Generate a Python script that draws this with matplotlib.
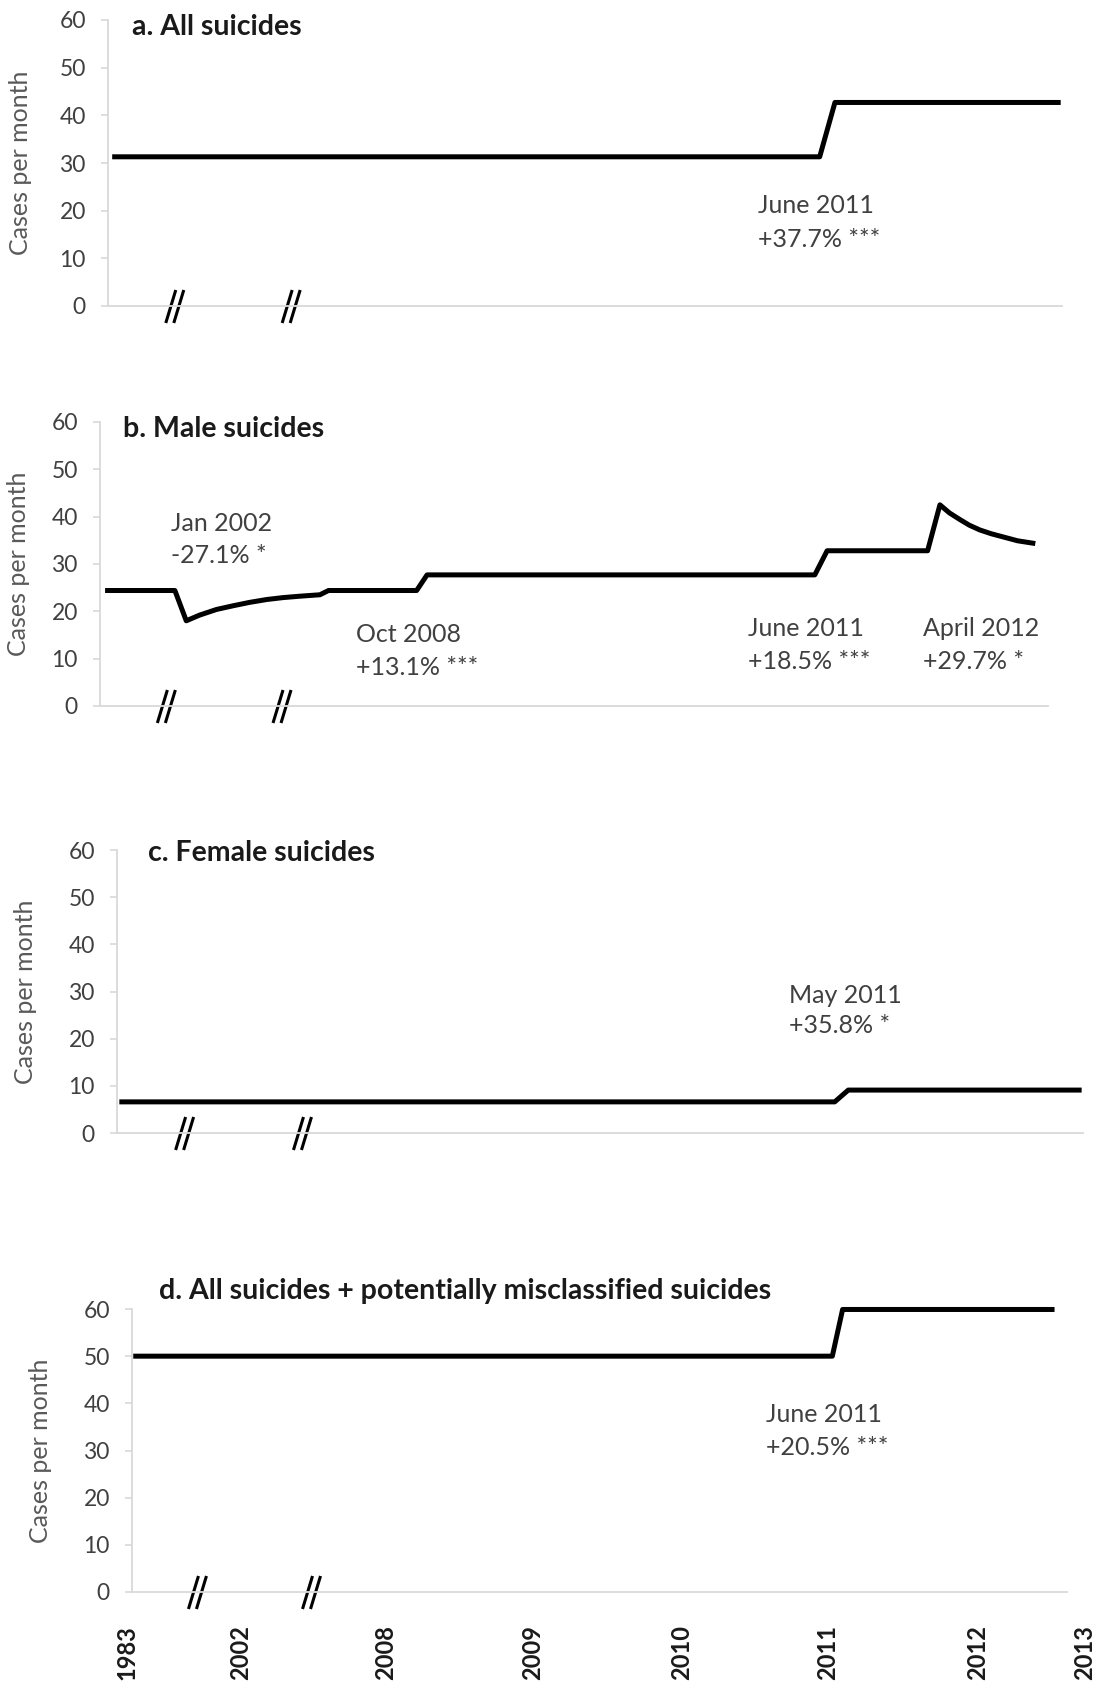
import matplotlib
matplotlib.use('Agg')
import matplotlib.pyplot as plt

plt.rcParams['font.family'] = ['Lato', 'DejaVu Sans']

### Data (x is position along the broken time axis, 0-100)

year_labels = ['1983', '2002', '2008', '2009', '2010', '2011', '2012', '2013']
year_pos = [-0.5, 11.6, 27.1, 42.8, 58.8, 74.4, 90.4, 101.9]
break_pos = [7.0, 19.2]

titles = ['a. All suicides', 'b. Male suicides', 'c. Female suicides',
          'd. All suicides + potentially misclassified suicides']

all_x = [0.7, 74.6, 76.2, 99.6]
all_y = [31.3, 31.3, 42.7, 42.7]

male_x = [0.8, 7.9, 9.1, 10.5, 12.3, 14.1, 15.8, 17.6, 19.3, 21.1, 23.2, 24.1,
          33.4, 34.5, 75.4, 76.7, 87.3, 88.6, 89.6, 90.7, 91.7, 92.8, 94.0,
          95.3, 96.8, 98.4]
male_y = [24.4, 24.4, 18.0, 19.2, 20.4, 21.2, 21.9, 22.5, 22.9, 23.2, 23.5, 24.4,
          24.4, 27.7, 27.7, 32.8, 32.8, 42.5, 40.8, 39.4, 38.2, 37.2, 36.4,
          35.7, 34.9, 34.4]

female_x = [0.5, 74.3, 75.7, 99.6]
female_y = [6.6, 6.6, 9.1, 9.1]

misc_x = [0.4, 74.9, 76.0, 98.4]
misc_y = [50.0, 50.0, 59.9, 59.9]

# annotation: (x, y of first baseline, y of second baseline, line 1, line 2)
notes_a = [(68.1, 19.5, 12.4, 'June 2011', '+37.7% ***')]
notes_b = [(7.5, 37.0, 30.2, 'Jan 2002', '-27.1% *'),
           (27.0, 13.5, 6.5, 'Oct 2008', '+13.1% ***'),
           (68.4, 14.8, 7.8, 'June 2011', '+18.5% ***'),
           (86.8, 14.8, 7.8, 'April 2012', '+29.7% *')]
notes_c = [(69.6, 27.6, 21.2, 'May 2011', '+35.8% *')]
notes_d = [(67.8, 36.0, 29.0, 'June 2011', '+20.5% ***')]

### Layout (pixels on a 1097 x 1686 canvas)

W, H = 1097, 1686
boxes = [(108, 1062, 20, 306),     # left, right, top, bottom
         (100, 1048, 422, 706),
         (117, 1083, 850, 1133),
         (132, 1067, 1309, 1592)]
title_pos = [(0.025, 0.976), (0.024, 0.975), (0.032, 0.989), (0.029, 1.064)]
ylabel_gap = [76, 70, 80, 80]

axis_grey = '#d9d9d9'
text_grey = '#404040'

fig = plt.figure(figsize=(W / 100, H / 100), dpi=100)

series = [(all_x, all_y, notes_a), (male_x, male_y, notes_b),
          (female_x, female_y, notes_c), (misc_x, misc_y, notes_d)]

for i, (xs, ys, notes) in enumerate(series):
    l, r, t, b = boxes[i]
    aw, ah = r - l, b - t
    ax = fig.add_axes([l / W, 1 - b / H, aw / W, ah / H])

    ax.plot(xs, ys, color='black', lw=3.6, solid_joinstyle='round', clip_on=False)

    ax.set_xlim(0, 100)
    ax.set_ylim(0, 60)
    ax.set_yticks(range(0, 61, 10))
    ax.set_xticks([])
    for side in ['top', 'right']:
        ax.spines[side].set_visible(False)
    for side in ['left', 'bottom']:
        ax.spines[side].set_color(axis_grey)
        ax.spines[side].set_linewidth(1.3)
    ax.tick_params(axis='y', length=5, width=1.2, color=axis_grey,
                   labelsize=16.5, labelcolor=text_grey, pad=11)

    ax.set_ylabel('Cases per month', fontsize=18, color='#595959')
    ax.yaxis.set_label_coords(-ylabel_gap[i] / aw, 0.5)

    ax.text(title_pos[i][0], title_pos[i][1], titles[i], transform=ax.transAxes,
            fontsize=20.5, fontweight='bold', color='#1a1a1a', ha='left', va='center')

    for x, y1, y2, line1, line2 in notes:
        ax.text(x, y1, line1, fontsize=18, color=text_grey, va='baseline', ha='left')
        ax.text(x, y2, line2, fontsize=18, color=text_grey, va='baseline', ha='left')

    # "//" marks where the time axis is broken
    for bx in break_pos:
        for off in (-4, 4):
            x0 = bx + (off - 5) / aw * 100
            x1 = bx + (off + 5) / aw * 100
            ax.plot([x0, x1], [-17 / ah, 16 / ah], color='black', lw=2.2,
                    transform=ax.get_xaxis_transform(), clip_on=False,
                    solid_capstyle='butt')

    if i == 3:
        for pos, lab in zip(year_pos, year_labels):
            ax.annotate(lab, xy=(pos, 0), xycoords=('data', 'axes fraction'),
                        xytext=(0, -24), textcoords='offset points',
                        rotation=90, ha='center', va='top', fontsize=17,
                        fontweight='bold', color='#1a1a1a', annotation_clip=False)

fig.savefig('out.png', dpi=100)
